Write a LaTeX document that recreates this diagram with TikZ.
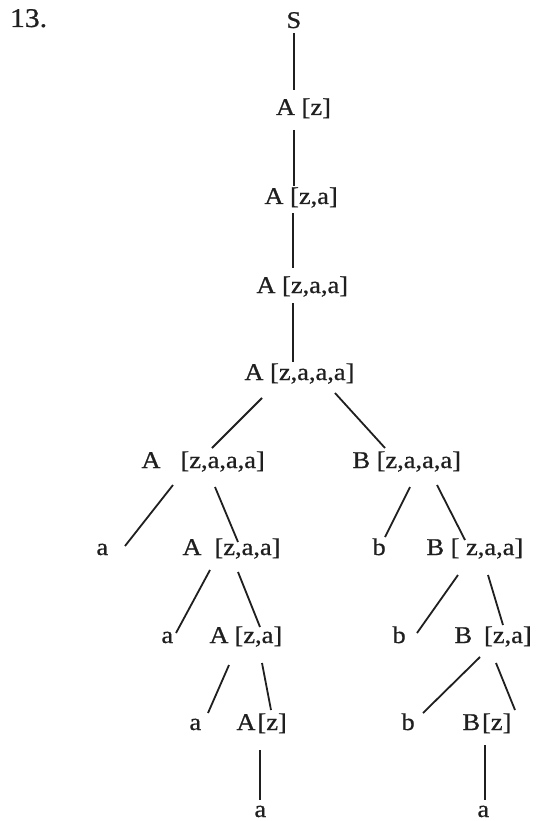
\documentclass[tikz,border=0pt]{standalone}
\usepackage{fontspec}
\setmainfont[FakeStretch=1.1,FakeBold=0.8]{Liberation Serif}
\definecolor{ink}{rgb}{0.12,0.12,0.12}
\begin{document}
\begin{tikzpicture}[x=1pt,y=-1pt,
  lbl/.style={inner sep=0pt,outer sep=0pt,anchor=base west,text=ink,font=\fontsize{24}{28}\selectfont},
  edge/.style={draw=ink,line width=1.8pt}]
\fill[white] (0,0) rectangle (540,821);
\useasboundingbox (0,0) rectangle (540,821);
\node[lbl,font=\fontsize{27}{31}\selectfont] (num) at (10,27) {13.};
\node[lbl] (S) at (286.5,28) {S};
\node[lbl] (r1) at (276,115) {A [z]};
\node[lbl] (r2) at (264.5,204) {A [z,a]};
\node[lbl] (r3) at (256.5,293) {A [z,a,a]};
\node[lbl] (r4) at (244.5,380) {A [z,a,a,a]};
\node[lbl] (r5a) at (141.5,468) {A\hspace{20pt}[z,a,a,a]};
\node[lbl] (r5b) at (352.5,468) {B [z,a,a,a]};
\node[lbl] (r6a1) at (96.5,555) {a};
\node[lbl] (r6a) at (182.5,555) {A\hspace{13pt}[z,a,a]};
\node[lbl] (r6b1) at (372.5,555) {b};
\node[lbl] (r6b) at (426.5,555) {B [ z,a,a]};
\node[lbl] (r7a1) at (161.5,643) {a};
\node[lbl] (r7a) at (209.5,643) {A\hspace{6pt}[z,a]};
\node[lbl] (r7b1) at (392.5,643) {b};
\node[lbl] (r7b) at (454.5,643) {B\hspace{12pt}[z,a]};
\node[lbl] (r8a1) at (189.5,730) {a};
\node[lbl] (r8a) at (236.5,730) {A\hspace{2pt}[z]};
\node[lbl] (r8b1) at (401.5,730) {b};
\node[lbl] (r8b) at (462.5,730) {B\hspace{2pt}[z]};
\node[lbl] (r9a) at (254.5,817) {a};
\node[lbl] (r9b) at (477.5,817) {a};
\draw[edge] ([shift={(7.5,5)}]S.base west) -- ([shift={(18,-25)}]r1.base west);
\draw[edge] ([shift={(18,15)}]r1.base west) -- ([shift={(29.5,-18)}]r2.base west);
\draw[edge] ([shift={(28.5,9)}]r2.base west) -- ([shift={(36.5,-25)}]r3.base west);
\draw[edge] ([shift={(36.5,10)}]r3.base west) -- ([shift={(48.5,-18)}]r4.base west);
\draw[edge] ([shift={(17.5,18)}]r4.base west) -- ([shift={(70.5,-20)}]r5a.base west);
\draw[edge] ([shift={(90.5,13)}]r4.base west) -- ([shift={(32.5,-20)}]r5b.base west);
\draw[edge] ([shift={(31.5,17)}]r5a.base west) -- ([shift={(28.5,-9)}]r6a1.base west);
\draw[edge] ([shift={(73.5,19)}]r5a.base west) -- ([shift={(55.5,-13)}]r6a.base west);
\draw[edge] ([shift={(57.5,19)}]r5b.base west) -- ([shift={(12.5,-18)}]r6b1.base west);
\draw[edge] ([shift={(84.5,17)}]r5b.base west) -- ([shift={(38.5,-15)}]r6b.base west);
\draw[edge] ([shift={(27.5,15)}]r6a.base west) -- ([shift={(14.5,-10)}]r7a1.base west);
\draw[edge] ([shift={(55.5,17)}]r6a.base west) -- ([shift={(50.5,-16)}]r7a.base west);
\draw[edge] ([shift={(31.5,20)}]r6b.base west) -- ([shift={(24.5,-10)}]r7b1.base west);
\draw[edge] ([shift={(61.5,20)}]r6b.base west) -- ([shift={(48.5,-18)}]r7b.base west);
\draw[edge] ([shift={(19.5,22)}]r7a.base west) -- ([shift={(18.5,-17)}]r8a1.base west);
\draw[edge] ([shift={(52.5,20)}]r7a.base west) -- ([shift={(34.5,-20)}]r8a.base west);
\draw[edge] ([shift={(25.5,14)}]r7b.base west) -- ([shift={(21.5,-17)}]r8b1.base west);
\draw[edge] ([shift={(41.5,20)}]r7b.base west) -- ([shift={(52.5,-20)}]r8b.base west);
\draw[edge] ([shift={(23.5,20)}]r8a.base west) -- ([shift={(5.5,-17)}]r9a.base west);
\draw[edge] ([shift={(22.5,15)}]r8b.base west) -- ([shift={(7.5,-17)}]r9b.base west);
\end{tikzpicture}
\end{document}
